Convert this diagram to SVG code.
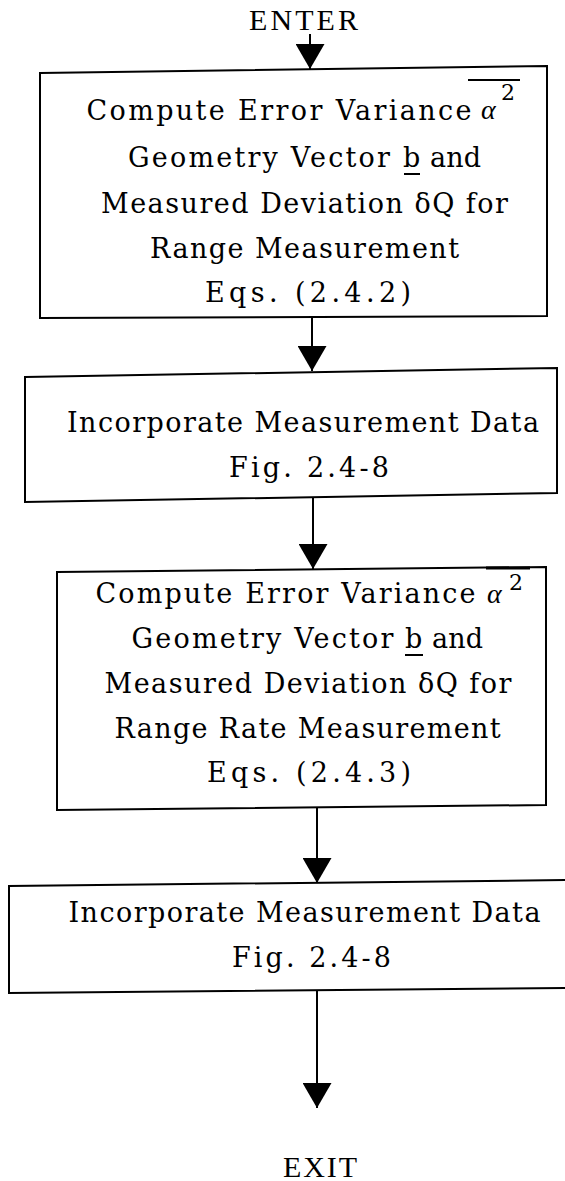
<svg xmlns="http://www.w3.org/2000/svg" width="565" height="1181" viewBox="0 0 565 1181">
<style>
.box{fill:#fff;stroke:#000;stroke-width:2;}
.t{font-family:"DejaVu Serif","Liberation Serif",serif;font-size:27px;fill:#000;}
.io{font-family:"Liberation Serif",serif;font-size:30px;fill:#000;}
.al{font-family:"Liberation Serif",serif;font-style:italic;font-size:28px;fill:#000;}
.sup{font-family:"DejaVu Serif",serif;font-size:22px;fill:#000;}
.ln{stroke:#000;stroke-width:2;fill:none;}
.conn{stroke:#000;stroke-width:2;fill:none;marker-end:url(#arr);}
</style>
<defs>
<marker id="arr" markerUnits="userSpaceOnUse" viewBox="0 -14.5 25 29" refX="25" refY="0" markerWidth="25" markerHeight="29" orient="auto">
<path d="M0,-14.5 L25,0 L0,14.5 z" fill="#000"/>
</marker>
</defs>
<rect width="565" height="1181" fill="#fff"/>
<text class="io" x="249" y="30" textLength="109" lengthAdjust="spacing">ENTER</text>
<text class="io" x="283" y="1177" textLength="74" lengthAdjust="spacing">EXIT</text>
<g id="connectors">
<path class="conn" d="M310,34 L310,69"/>
<path class="conn" d="M312,317 L312,371"/>
<path class="conn" d="M313,498 L313,569"/>
<path class="conn" d="M317,807 L317,883"/>
<path class="conn" d="M317,990 L317,1108"/>
</g>
<g id="node1">
<polygon class="box" points="40,73 547,66 547,316 40,318"/>
<text class="t" x="86.5" y="120" textLength="385" lengthAdjust="spacing">Compute Error Variance</text>
<text class="al" x="481" y="119">α</text>
<text class="sup" x="501" y="100">2</text>
<line class="ln" x1="468" y1="80" x2="520" y2="80"/>
<text class="t" x="128" y="167" textLength="262" lengthAdjust="spacing">Geometry Vector</text>
<text class="t" x="403" y="167">b</text>
<line class="ln" x1="404" y1="174" x2="420" y2="174"/>
<text class="t" x="430" y="167" textLength="51" lengthAdjust="spacing">and</text>
<text class="t" x="101" y="213" textLength="407" lengthAdjust="spacing">Measured Deviation δQ for</text>
<text class="t" x="150" y="258" textLength="309" lengthAdjust="spacing">Range Measurement</text>
<text class="t" x="205" y="302" textLength="206" lengthAdjust="spacing">Eqs. (2.4.2)</text>
</g>
<g id="node2">
<polygon class="box" points="25,377 557,368 557,493 25,502"/>
<text class="t" x="67" y="432" textLength="472" lengthAdjust="spacing">Incorporate Measurement Data</text>
<text class="t" x="229" y="477" textLength="160" lengthAdjust="spacing">Fig. 2.4-8</text>
</g>
<g id="node3">
<polygon class="box" points="57,572 546,567 546,805 57,810"/>
<text class="t" x="95.5" y="603" textLength="380" lengthAdjust="spacing">Compute Error Variance</text>
<text class="al" x="487" y="603">α</text>
<text class="sup" x="509" y="590">2</text>
<line class="ln" x1="486" y1="568" x2="530" y2="568" style="stroke-width:3"/>
<text class="t" x="131.5" y="648" textLength="262" lengthAdjust="spacing">Geometry Vector</text>
<text class="t" x="405" y="648">b</text>
<line class="ln" x1="405" y1="655" x2="423" y2="655"/>
<text class="t" x="432" y="648" textLength="51" lengthAdjust="spacing">and</text>
<text class="t" x="104.5" y="693" textLength="407" lengthAdjust="spacing">Measured Deviation δQ for</text>
<text class="t" x="114.6" y="738" textLength="386" lengthAdjust="spacing">Range Rate Measurement</text>
<text class="t" x="207" y="782" textLength="204" lengthAdjust="spacing">Eqs. (2.4.3)</text>
</g>
<g id="node4">
<path class="box" d="M570,880 L9,886 L9,993 L570,988"/>
<text class="t" x="68.5" y="922" textLength="472" lengthAdjust="spacing">Incorporate Measurement Data</text>
<text class="t" x="232" y="967" textLength="159" lengthAdjust="spacing">Fig. 2.4-8</text>
</g>
</svg>
